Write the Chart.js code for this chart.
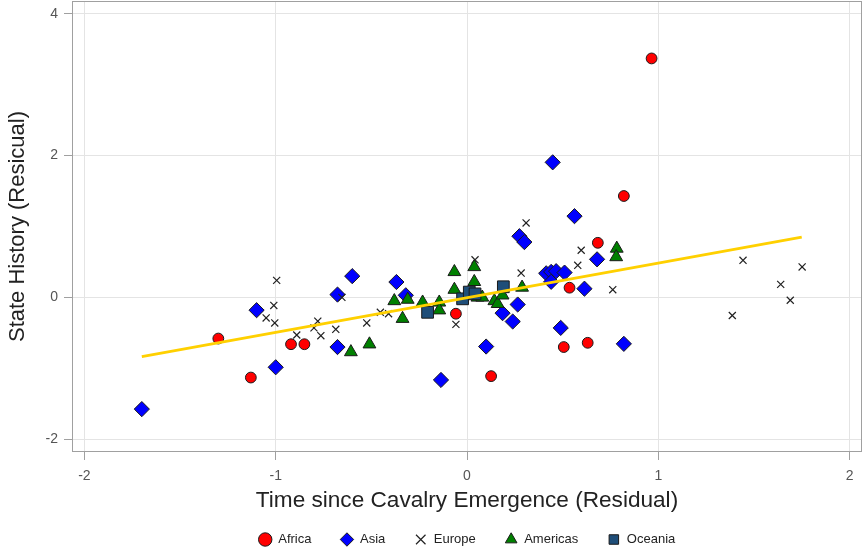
<!DOCTYPE html>
<html>
<head>
<meta charset="utf-8">
<script src="https://cdn.jsdelivr.net/npm/chart.js@4.4.1/dist/chart.umd.min.js"></script>
<style>
  html, body { margin: 0; padding: 0; background: #fff; }
</style>
</head>
<body>
<canvas id="chart" width="866" height="550"></canvas>
<script>
// values, [x, y]
var africa = [[0.965,3.37],[0.82,1.43],[0.684,0.77],[0.536,0.137],[0.506,-0.70],[0.631,-0.64],
  [0.126,-1.11],[-0.058,-0.23],[-1.30,-0.58],[-1.13,-1.13],[-0.92,-0.66],[-0.85,-0.66]];
var asia = [[-1.70,-1.575],[-1.10,-0.18],[-1.00,-0.985],[-0.677,0.04],[-0.60,0.30],[-0.677,-0.70],
  [-0.369,0.217],[-0.32,0.03],[-0.136,-1.164],[0.10,-0.693],[0.274,0.863],[0.30,0.78],
  [0.186,-0.222],[0.239,-0.34],[0.265,-0.10],[0.49,-0.43],[0.414,0.34],[0.44,0.36],
  [0.466,0.37],[0.51,0.35],[0.44,0.22],[0.562,1.146],[0.68,0.537],[0.614,0.123],
  [0.82,-0.655],[0.448,1.905]];
var europe = [[-0.995,0.24],[-1.01,-0.113],[-1.05,-0.29],[-1.005,-0.36],[-0.89,-0.53],[-0.78,-0.335],
  [-0.80,-0.43],[-0.764,-0.54],[-0.686,-0.45],[-0.654,0.0],[-0.524,-0.36],[-0.453,-0.21],
  [-0.41,-0.23],[-0.058,-0.38],[0.042,0.53],[0.283,0.344],[0.309,1.05],[0.597,0.665],
  [0.579,0.453],[0.762,0.109],[1.443,0.523],[1.752,0.43],[1.64,0.184],[1.69,-0.04],[1.387,-0.255]];
var americas = [[-0.607,-0.77],[-0.51,-0.66],[-0.38,-0.05],[-0.31,-0.03],[-0.337,-0.30],[-0.232,-0.07],
  [-0.145,-0.07],[-0.145,-0.18],[-0.066,0.36],[-0.066,0.11],[0.038,0.43],[0.038,0.22],
  [0.055,0.0],[0.08,0.0],[0.143,-0.05],[0.16,-0.09],[0.186,0.03],[0.288,0.14],[0.783,0.69],[0.78,0.57]];
var oceania = [[-0.206,-0.21],[-0.023,-0.02],[0.012,0.075],[0.042,0.05],[0.19,0.15]];

// fitted line end points
var fitX = [-1.70, 1.75];
var fitY = [-0.835, 0.85];

var xTicks = [-2, -1, 0, 1, 2];
var yTicks = [-2, 0, 2, 4];

function pts(arr) {
  return arr.map(function(p) { return {x: p[0], y: p[1]}; });
}

var frame = {
  id: 'frame',
  beforeDatasetsDraw: function(chart) {
    var a = chart.chartArea, c = chart.ctx;
    c.save();
    c.strokeStyle = '#a0a0a0';
    c.lineWidth = 1;
    c.strokeRect(Math.round(a.left) + 0.5, Math.round(a.top) + 0.5,
      Math.round(a.right - a.left) - 1, Math.round(a.bottom - a.top) - 1);
    c.restore();
  }
};

var gridOpts = { color: '#e4e4e4', lineWidth: 1, drawTicks: true, tickLength: 8, tickColor: '#a0a0a0' };

new Chart(document.getElementById('chart'), {
  type: 'scatter',
  data: {
    datasets: [
      { label: 'Africa', data: pts(africa), pointStyle: 'circle', pointRadius: 5.4,
        backgroundColor: '#ff0000', borderColor: '#1a1a1a', borderWidth: 1, order: 5 },
      { label: 'Asia', data: pts(asia), pointStyle: 'rectRot', pointRadius: 7.6,
        backgroundColor: '#0000ff', borderColor: '#1a1a1a', borderWidth: 1, order: 4 },
      { label: 'Europe', data: pts(europe), pointStyle: 'crossRot', pointRadius: 5,
        backgroundColor: '#222', borderColor: '#222', borderWidth: 1.2, order: 3 },
      { label: 'Americas', data: pts(americas), pointStyle: 'triangle', pointRadius: 7.4,
        backgroundColor: '#008000', borderColor: '#1a1a1a', borderWidth: 1, order: 2 },
      { label: 'Oceania', data: pts(oceania), pointStyle: 'rect', pointRadius: 8.3,
        backgroundColor: '#1f4e79', borderColor: '#1a1a1a', borderWidth: 1, order: 1 },
      { label: 'fit', type: 'line', data: [{x: fitX[0], y: fitY[0]}, {x: fitX[1], y: fitY[1]}],
        borderColor: '#ffd000', borderWidth: 3, pointRadius: 0, fill: false, order: 0 }
    ]
  },
  options: {
    responsive: false,
    animation: false,
    devicePixelRatio: 1,
    layout: { autoPadding: false, padding: { top: 1, right: 4, left: 0, bottom: 0 } },
    plugins: {
      tooltip: { enabled: false },
      legend: {
        position: 'bottom',
        fullSize: false,
        maxHeight: 46,
        labels: {
          usePointStyle: true,
          boxHeight: 9.5,
          padding: 29,
          color: '#222',
          font: { family: 'Liberation Sans', size: 13 },
          filter: function(item) { return item.text !== 'fit'; },
          sort: function(a, b) { return a.datasetIndex - b.datasetIndex; }
        }
      }
    },
    scales: {
      x: {
        type: 'linear',
        min: -2.065, max: 2.065,
        afterBuildTicks: function(s) { s.ticks = xTicks.map(function(v) { return {value: v}; }); },
        afterFit: function(s) { s.height = 52; s.paddingLeft = 0; s.paddingRight = 0; },
        grid: gridOpts,
        border: { display: false },
        ticks: { color: '#555', padding: 8, font: { family: 'Liberation Sans', size: 14 } },
        title: { display: true, text: 'Time since Cavalry Emergence (Residual)', color: '#222',
          padding: { top: 0, bottom: -10 }, font: { family: 'Liberation Sans', size: 22.6 } }
      },
      y: {
        type: 'linear',
        min: -2.18, max: 4.18,
        afterBuildTicks: function(s) { s.ticks = yTicks.map(function(v) { return {value: v}; }); },
        afterFit: function(s) { s.width = 72; s.paddingTop = 0; s.paddingBottom = 0; },
        grid: gridOpts,
        border: { display: false },
        ticks: { color: '#555', padding: 6, font: { family: 'Liberation Sans', size: 14 } },
        title: { display: true, text: 'State History (Resicual)', color: '#222',
          padding: { top: 5, bottom: 0 }, font: { family: 'Liberation Sans', size: 22 } }
      }
    }
  },
  plugins: [frame]
});
</script>
</body>
</html>
